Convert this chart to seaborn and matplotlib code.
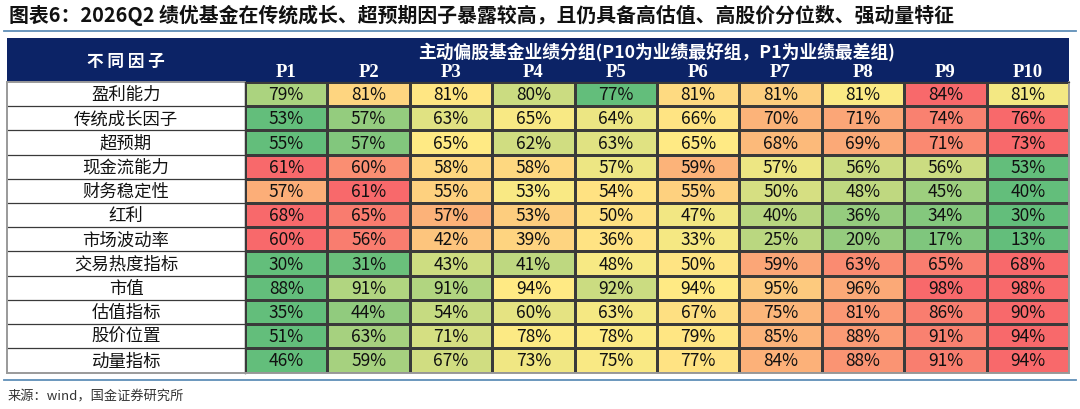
import numpy as np
import pandas as pd
import matplotlib
matplotlib.use("Agg")
import matplotlib.pyplot as plt
import seaborn as sns
from matplotlib.colors import LinearSegmentedColormap

groups = ["P1", "P2", "P3", "P4", "P5", "P6", "P7", "P8", "P9", "P10"]
factors = ["盈利能力", "传统成长因子", "超预期", "现金流能力", "财务稳定性", "红利",
           "市场波动率", "交易热度指标", "市值", "估值指标", "股价位置", "动量指标"]

profit = [78.8, 81.35, 81.0, 79.6, 77.0, 81.25, 81.48, 80.8, 83.6, 80.6]
growth = [53, 57, 63, 65, 64, 66, 70, 71, 74, 76]
surprise = [55, 57, 65, 62, 63, 65, 68, 69, 71, 73]
cashflow = [61, 60, 58, 58, 57, 59, 57, 56, 56, 53]
stability = [57, 61, 55, 53, 54, 55, 50, 48, 45, 40]
dividend = [68, 65, 57, 53, 50, 47, 40, 36, 34, 30]
volatility = [60, 56, 42, 39, 36, 33, 25, 20, 17, 13]
turnover = [30, 31, 43, 41, 48, 50, 59, 63, 65, 68]
mktcap = [88, 91, 91, 94, 92, 94, 95, 96, 98, 98]
valuation = [35, 44, 54, 60, 63, 67, 75, 81, 86, 90]
price_pos = [51, 63, 71, 78, 78, 79, 85, 88, 91, 94]
momentum = [46, 59, 67, 73, 75, 77, 84, 88, 91, 94]

title = "图表6：2026Q2 绩优基金在传统成长、超预期因子暴露较高，且仍具备高估值、高股价分位数、强动量特征"
header_left = "不 同 因 子"
header_top = "主动偏股基金业绩分组(P10为业绩最好组，P1为业绩最差组)"
source = "来源：wind，国金证券研究所"

CJK = ["Noto Sans CJK SC", "DejaVu Sans"]
NAVY = "#0C2366"
RULE = "#5F8FB8"

df = pd.DataFrame([profit, growth, surprise, cashflow, stability, dividend,
                   volatility, turnover, mktcap, valuation, price_pos, momentum],
                  index=factors, columns=groups, dtype=float)


# Excel style 3-colour scale, applied row by row (min / median / max)
def row_scale(row):
    lo, mid, hi = row.min(), np.percentile(row, 50), row.max()
    out = np.where(row <= mid,
                   0.5 * (row - lo) / (mid - lo),
                   0.5 + 0.5 * (row - mid) / (hi - mid))
    return pd.Series(out, index=row.index)


scores = df.apply(row_scale, axis=1)
labels = df.map(lambda v: f"{v:.0f}%")
cmap = LinearSegmentedColormap.from_list("gyr", ["#63BE7B", "#FFEB84", "#F8696B"])

W, H = 1080, 410
fig = plt.figure(figsize=(W / 100, H / 100), dpi=100)


def fx(px):
    return px / W


def fy(py):
    return 1 - py / H


tab_left, tab_split, tab_right = 7, 245, 1069
head_top, body_top, body_bot = 38.5, 83, 373.5

# header band
ax_head = fig.add_axes([fx(tab_left), fy(body_top), fx(tab_right - tab_left),
                        (body_top - head_top) / H])
ax_head.set_facecolor(NAVY)
ax_head.set_xticks([])
ax_head.set_yticks([])
for s in ax_head.spines.values():
    s.set_visible(False)

# factor name column
ax_lab = fig.add_axes([fx(tab_left), fy(body_bot), fx(tab_split - tab_left),
                       (body_bot - body_top) / H])
ax_lab.set_xlim(0, 1)
ax_lab.set_ylim(len(factors), 0)
ax_lab.hlines(np.arange(1, len(factors)), 0, 1, color="#3a3a3a", lw=0.9)
for i, name in enumerate(factors):
    ax_lab.text(0.5, i + 0.5, name, ha="center", va="center",
                fontsize=12.5, family=CJK, color="#111111")
ax_lab.set_xticks([])
ax_lab.set_yticks([])
for s in ax_lab.spines.values():
    s.set_color("#9a9a9a")
    s.set_linewidth(1.4)
ax_lab.spines["right"].set_color("#3a3a3a")
ax_lab.spines["right"].set_linewidth(0.9)

# heatmap body
ax = fig.add_axes([fx(tab_split), fy(body_bot), fx(tab_right - tab_split),
                   (body_bot - body_top) / H])
sns.heatmap(scores, ax=ax, cmap=cmap, vmin=0, vmax=1, cbar=False,
            annot=labels, fmt="", linewidths=0.9, linecolor="#3a3a3a",
            annot_kws=dict(fontsize=12.5, family=CJK, color="#111111"),
            xticklabels=groups, yticklabels=False)
ax.xaxis.tick_top()
ax.tick_params(axis="x", length=0, pad=1.5)
for t in ax.get_xticklabels():
    t.set_fontfamily("Liberation Serif")
    t.set_fontweight("bold")
    t.set_fontsize(13.5)
    t.set_color("white")
    t.set_rotation(0)
ax.set_xlabel("")
ax.set_ylabel("")
for s in ax.spines.values():
    s.set_visible(True)
    s.set_color("#3a3a3a")
    s.set_linewidth(0.9)
ax.spines["right"].set_color("#9a9a9a")
ax.spines["right"].set_linewidth(1.4)
ax.spines["bottom"].set_color("#9a9a9a")
ax.spines["bottom"].set_linewidth(1.4)

# header texts
fig.text(fx((tab_left + tab_split) / 2), fy(61.5), header_left, ha="center", va="center",
         fontsize=12, family=CJK, fontweight="bold", color="white")
fig.text(fx((tab_split + tab_right) / 2), fy(52), header_top, ha="center", va="center",
         fontsize=12.8, family=CJK, fontweight="bold", color="white")

# title, rules and source
fig.text(fx(9), fy(15.5), title, ha="left", va="center", fontsize=14.3,
         family=CJK, fontweight="bold", color="#111111")
fig.add_artist(plt.Line2D([fx(4), fx(1076)], [fy(31.5), fy(31.5)], color=RULE, lw=1.3))
fig.add_artist(plt.Line2D([fx(4), fx(1076)], [fy(380.5), fy(380.5)], color=RULE, lw=1.3))
fig.text(fx(8), fy(397), source, ha="left", va="center", fontsize=9.5,
         family=CJK, color="#333333")

fig.savefig("out.png", dpi=100)
